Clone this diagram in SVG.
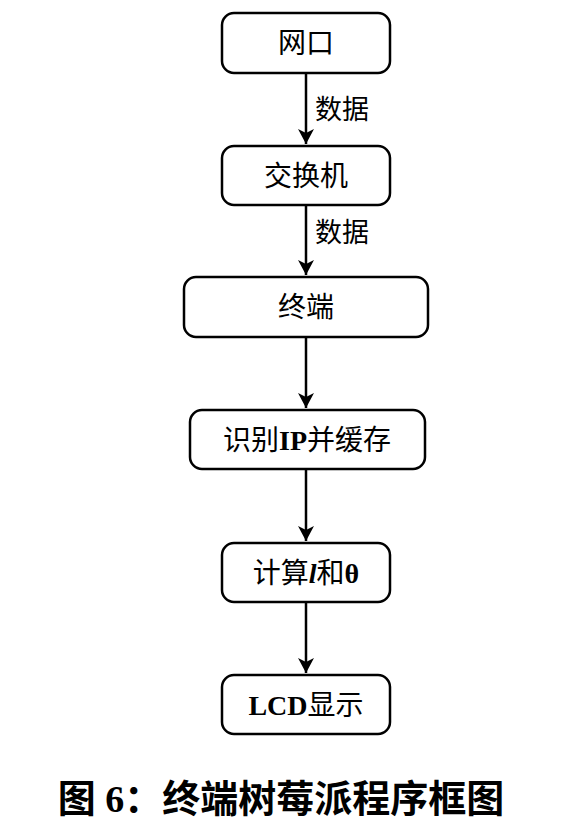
<svg xmlns="http://www.w3.org/2000/svg" width="574" height="824" viewBox="0 0 574 824">
<style>
.box{fill:#fff;stroke:#000;stroke-width:2.5}
.t{font-family:"Liberation Serif","Noto Sans CJK SC",serif;font-size:28px;fill:#000;text-anchor:middle}
.lbl{font-family:"Liberation Serif","Noto Sans CJK SC",serif;font-size:27px;fill:#000}
.c{stroke:#000;stroke-width:2.5;fill:none}
</style>
<defs>
<marker id="ah" markerWidth="16" markerHeight="20" refX="15" refY="10" orient="auto" markerUnits="userSpaceOnUse">
<path d="M0,2 L15,10 L0,18 L4,10 Z" fill="#000"/>
</marker>
</defs>
<rect width="574" height="824" fill="#fff"/>
<g id="connectors">
<line class="c" x1="306" y1="74" x2="306" y2="144" marker-end="url(#ah)"/>
<line class="c" x1="306" y1="206" x2="306" y2="275" marker-end="url(#ah)"/>
<line class="c" x1="306" y1="338" x2="306" y2="408" marker-end="url(#ah)"/>
<line class="c" x1="306" y1="470" x2="306" y2="541" marker-end="url(#ah)"/>
<line class="c" x1="306" y1="603" x2="306" y2="673" marker-end="url(#ah)"/>
<text class="lbl" x="315" y="119">数据</text>
<text class="lbl" x="315" y="242">数据</text>
</g>
<g id="n1"><rect class="box" x="222" y="13" width="168" height="60" rx="12"/><text class="t" x="306" y="53">网口</text></g>
<g id="n2"><rect class="box" x="222" y="146" width="168" height="59" rx="12"/><text class="t" x="306" y="186">交换机</text></g>
<g id="n3"><rect class="box" x="184" y="277" width="244" height="60" rx="12"/><text class="t" x="306" y="317">终端</text></g>
<g id="n4"><rect class="box" x="190" y="410" width="235" height="59" rx="12"/><text class="t" x="307" y="450">识别<tspan font-weight="bold">IP</tspan>并缓存</text></g>
<g id="n5"><rect class="box" x="222" y="543" width="168" height="59" rx="12"/><text class="t" x="306" y="583">计算<tspan font-weight="bold" font-style="italic">l</tspan>和<tspan font-weight="bold">θ</tspan></text></g>
<g id="n6"><rect class="box" x="222" y="675" width="168" height="59" rx="12"/><text class="t" x="306" y="715"><tspan font-weight="bold">LCD</tspan>显示</text></g>
<text x="281" y="812" text-anchor="middle" font-family="'Liberation Serif','Noto Sans CJK SC',serif" font-size="38" font-weight="bold" fill="#000">图 6：终端树莓派程序框图</text>
</svg>
